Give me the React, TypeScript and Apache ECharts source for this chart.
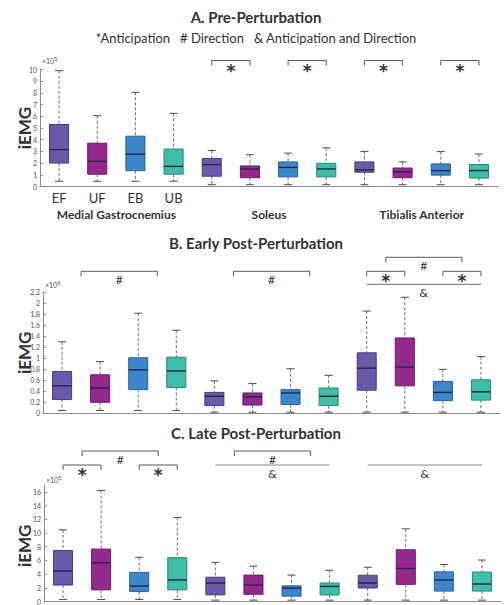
import React, { useEffect, useRef } from "react";
import * as echarts from "echarts";

// ---------- data ----------
const conditions = ["EF", "UF", "EB", "UB"];
const muscles = ["Medial Gastrocnemius", "Soleus", "Tibialis Anterior"];
const categories = muscles.flatMap((m) => conditions.map((c) => `${m}|${c}`));

// [min, q1, median, q3, max]  (x10^5)
const preStats = [
  [0.45, 2.0, 3.15, 5.3, 9.9],
  [0.45, 1.05, 2.15, 3.7, 6.05],
  [0.45, 1.35, 2.75, 4.3, 8.05],
  [0.45, 1.05, 1.72, 3.2, 6.25],
  [0.15, 0.88, 1.88, 2.4, 3.08],
  [0.15, 0.75, 1.5, 1.76, 2.72],
  [0.15, 0.82, 1.63, 2.1, 2.85],
  [0.15, 0.82, 1.5, 1.98, 3.3],
  [0.15, 1.22, 1.43, 2.1, 3.0],
  [0.15, 0.75, 1.25, 1.58, 2.1],
  [0.15, 0.97, 1.36, 1.93, 2.98],
  [0.15, 0.72, 1.36, 1.88, 2.77],
];
// x10^6
const earlyStats = [
  [0.05, 0.25, 0.5, 0.76, 1.3],
  [0.05, 0.2, 0.46, 0.7, 0.94],
  [0.05, 0.43, 0.79, 1.01, 1.82],
  [0.05, 0.47, 0.77, 1.02, 1.51],
  [0.02, 0.14, 0.31, 0.38, 0.59],
  [0.02, 0.15, 0.3, 0.37, 0.54],
  [0.02, 0.16, 0.37, 0.43, 0.81],
  [0.02, 0.14, 0.31, 0.46, 0.69],
  [0.02, 0.42, 0.82, 1.1, 1.86],
  [0.02, 0.5, 0.84, 1.37, 2.11],
  [0.02, 0.23, 0.38, 0.58, 0.8],
  [0.02, 0.24, 0.39, 0.61, 1.03],
];
// x10^5
const lateStats = [
  [0.3, 2.4, 4.45, 7.45, 10.45],
  [0.3, 1.7, 5.65, 7.65, 16.2],
  [0.3, 1.45, 2.25, 4.25, 6.45],
  [0.3, 1.7, 3.15, 6.4, 12.25],
  [0.2, 0.97, 2.7, 3.55, 5.7],
  [0.2, 1.05, 2.4, 3.85, 5.15],
  [0.2, 0.78, 1.95, 2.28, 3.85],
  [0.2, 0.95, 2.2, 2.7, 4.55],
  [0.2, 1.97, 2.7, 3.83, 5.0],
  [0.2, 2.5, 4.82, 7.55, 10.6],
  [0.2, 1.52, 3.15, 4.33, 5.4],
  [0.2, 1.52, 2.55, 4.3, 6.05],
];

const legendText = "*Anticipation   # Direction   & Anticipation and Direction";
const panelTitles = ["A. Pre-Perturbation", "B. Early Post-Perturbation", "C. Late Post-Perturbation"];
const yAxisTitle = "iEMG";
const exponents = [5, 6, 5];
const axisMax = [10, 2.2, 17];
const axisInterval = [1, 0.2, 2];

type Sig = { from: number; to: number; label: string; kind: "bracket" | "line"; row: number };
const preSig: Sig[] = [
  { from: 4, to: 5, label: "*", kind: "bracket", row: 0 },
  { from: 6, to: 7, label: "*", kind: "bracket", row: 0 },
  { from: 8, to: 9, label: "*", kind: "bracket", row: 0 },
  { from: 10, to: 11, label: "*", kind: "bracket", row: 0 },
];
const earlySig: Sig[] = [
  { from: 0.5, to: 2.5, label: "#", kind: "bracket", row: 1 },
  { from: 4.5, to: 6.5, label: "#", kind: "bracket", row: 1 },
  { from: 8.5, to: 10.5, label: "#", kind: "bracket", row: 2 },
  { from: 8, to: 9, label: "*", kind: "bracket", row: 1 },
  { from: 10, to: 11, label: "*", kind: "bracket", row: 1 },
  { from: 8, to: 11, label: "&", kind: "line", row: 0 },
];
const lateSig: Sig[] = [
  { from: 0, to: 1, label: "*", kind: "bracket", row: 0 },
  { from: 2, to: 3, label: "*", kind: "bracket", row: 0 },
  { from: 0.5, to: 2.5, label: "#", kind: "bracket", row: 1 },
  { from: 4.5, to: 6.5, label: "#", kind: "bracket", row: 1 },
  { from: 4, to: 7, label: "&", kind: "line", row: 0 },
  { from: 8, to: 11, label: "&", kind: "line", row: 0 },
];

// ---------- styles / layout ----------
const FONT = "Lato, 'Open Sans', sans-serif";
const STAR_FONT = "'DejaVu Sans', sans-serif";
const boxColors = ["#6a58aa", "#95288f", "#3a87cb", "#3dbea7"];
const boxStrokes = ["#4a3c82", "#6e1c6a", "#2a6399", "#2b8a78"];
const grids = [
  { left: 40, top: 69.5, width: 458, height: 117 },
  { left: 43, top: 292.3, width: 457, height: 121 },
  { left: 44, top: 485, width: 457, height: 121.5 },
];
const rowOffsets = [[9], [8, 21, 35], [20, 34]];
const titleY = [17, 243, 433];
const expY = [61, 285, 480];

function xAt(api: any, pos: number) {
  const a = Math.floor(pos);
  const b = Math.ceil(pos);
  const xa = api.coord([a, 0])[0];
  if (a === b) return xa;
  const xb = api.coord([b, 0])[0];
  return xa + (xb - xa) * (pos - a);
}

export default function App() {
  const ref = useRef<HTMLDivElement>(null);
  useEffect(() => {
    document.body.style.margin = "0";
    const chart = echarts.init(ref.current!, null, { renderer: "svg" });
    const statsList = [preStats, earlyStats, lateStats];
    const sigList = [preSig, earlySig, lateSig];

    const series: any[] = [];
    statsList.forEach((stats, k) => {
      series.push({
        type: "custom",
        xAxisIndex: k,
        yAxisIndex: k,
        clip: false,
        silent: true,
        data: stats.map((s, i) => [i, ...s]),
        encode: { x: 0, y: [1, 2, 3, 4, 5] },
        renderItem: (params: any, api: any) => {
          const i = api.value(0);
          const v = [1, 2, 3, 4, 5].map((d) => api.value(d));
          const p = v.map((val) => api.coord([i, val]));
          const band = api.size([1, 0])[0];
          const bw = band * 0.5;
          const cw = band * 0.21;
          const cx = p[0][0];
          const dash = { stroke: "#707070", lineWidth: 1, lineDash: [3, 2] };
          const cap = { stroke: "#4a4a4a", lineWidth: 1 };
          return {
            type: "group",
            children: [
              { type: "line", shape: { x1: cx, y1: p[4][1], x2: cx, y2: p[3][1] }, style: dash },
              { type: "line", shape: { x1: cx, y1: p[1][1], x2: cx, y2: p[0][1] }, style: dash },
              { type: "line", shape: { x1: cx - cw / 2, y1: p[4][1], x2: cx + cw / 2, y2: p[4][1] }, style: cap },
              { type: "line", shape: { x1: cx - cw / 2, y1: p[0][1], x2: cx + cw / 2, y2: p[0][1] }, style: cap },
              {
                type: "rect",
                shape: { x: cx - bw / 2, y: p[3][1], width: bw, height: p[1][1] - p[3][1] },
                style: { fill: boxColors[i % 4], stroke: boxStrokes[i % 4], lineWidth: 1 },
              },
              {
                type: "line",
                shape: { x1: cx - bw / 2, y1: p[2][1], x2: cx + bw / 2, y2: p[2][1] },
                style: { stroke: "#2a2448", lineWidth: 1.4 },
              },
            ],
          };
        },
      });
      const sig = sigList[k];
      series.push({
        type: "custom",
        xAxisIndex: k,
        yAxisIndex: k,
        clip: false,
        silent: true,
        data: sig.map((a) => [Math.round(a.from), 0]),
        encode: { x: 0, y: 1 },
        renderItem: (params: any, api: any) => {
          const a = sig[params.dataIndex];
          const x1 = xAt(api, a.from);
          const x2 = xAt(api, a.to);
          const top = api.coord([0, axisMax[k]])[1];
          const y = top - rowOffsets[k][a.row];
          const children: any[] = [];
          const isLine = a.kind === "line";
          const ls = { stroke: isLine ? "#8a8a8a" : "#5a5a5a", lineWidth: isLine ? 1.2 : 1 };
          children.push({ type: "line", shape: { x1, y1: y, x2, y2: y }, style: ls });
          if (!isLine) {
            children.push({ type: "line", shape: { x1, y1: y, x2: x1, y2: y + 5 }, style: ls });
            children.push({ type: "line", shape: { x1: x2, y1: y, x2, y2: y + 5 }, style: ls });
          }
          const star = a.label === "*";
          children.push({
            type: "text",
            x: (x1 + x2) / 2,
            y: y + (star ? 10 : 8.5),
            style: {
              text: a.label,
              fontSize: star ? 17 : 12,
              fontWeight: star ? "bold" : "normal",
              fontFamily: star ? STAR_FONT : FONT,
              fill: "#333",
              align: "center",
              verticalAlign: "middle",
            },
          });
          return { type: "group", children };
        },
      });
    });

    // muscle group labels under panel A
    series.push({
      type: "custom",
      xAxisIndex: 0,
      yAxisIndex: 0,
      clip: false,
      silent: true,
      data: muscles.map((m, g) => [g * 4, 0]),
      encode: { x: 0, y: 1 },
      renderItem: (params: any, api: any) => {
        const g = params.dataIndex;
        const xa = api.coord([g * 4, 0])[0];
        const xb = api.coord([g * 4 + 3, 0])[0];
        const y0 = api.coord([0, 0])[1];
        return {
          type: "text",
          x: (xa + xb) / 2,
          y: y0 + 28,
          style: {
            text: muscles[g],
            fontSize: 12,
            fontWeight: "bold",
            fontFamily: FONT,
            fill: "#333",
            align: "center",
            verticalAlign: "middle",
          },
        };
      },
    });

    const graphic: any[] = [];
    panelTitles.forEach((t, k) => {
      graphic.push({
        type: "text",
        x: 256,
        y: titleY[k],
        style: {
          text: t,
          font: `bold 15px ${FONT}`,
          fill: "#333",
          align: "center",
          verticalAlign: "middle",
        },
      });
      graphic.push({
        type: "text",
        x: grids[k].left + 2,
        y: expY[k],
        style: {
          text: `×10{s|${exponents[k]}}`,
          fontSize: 7,
          fontFamily: FONT,
          fill: "#555",
          verticalAlign: "middle",
          rich: { s: { fontSize: 6, fill: "#555", verticalAlign: "top", padding: [0, 0, 5, 0] } },
        },
      });
      graphic.push({
        type: "text",
        x: 24,
        y: grids[k].top + grids[k].height / 2,
        rotation: Math.PI / 2,
        style: {
          text: yAxisTitle,
          font: `bold 17px ${FONT}`,
          fill: "#333",
          align: "center",
          verticalAlign: "middle",
        },
      });
    });
    graphic.push({
      type: "text",
      x: 256,
      y: 38,
      style: {
        text: legendText,
        font: `13px ${FONT}`,
        fill: "#333",
        align: "center",
        verticalAlign: "middle",
      },
    });

    chart.setOption({
      animation: false,
      backgroundColor: "#ffffff",
      grid: grids.map((g) => ({ ...g, containLabel: false })),
      xAxis: grids.map((g, k) => ({
        gridIndex: k,
        type: "category",
        data: categories,
        axisLine: { lineStyle: { color: "#8c8c8c", width: 1 } },
        axisTick: { show: false },
        splitLine: { show: false },
        axisLabel: {
          show: k === 0,
          interval: 0,
          fontSize: 13,
          fontFamily: FONT,
          color: "#333",
          margin: 5,
          formatter: (v: string) => {
            const [m, c] = v.split("|");
            return m === muscles[0] ? c : "";
          },
        },
      })),
      yAxis: grids.map((g, k) => ({
        gridIndex: k,
        type: "value",
        min: 0,
        max: axisMax[k],
        interval: axisInterval[k],
        splitLine: { show: false },
        axisLine: { show: true, lineStyle: { color: "#8c8c8c", width: 1 } },
        axisTick: { show: true, inside: true, length: 3, lineStyle: { color: "#8c8c8c" } },
        axisLabel: {
          fontSize: 7,
          fontFamily: FONT,
          color: "#555",
          margin: 3,
          showMaxLabel: k !== 2,
          formatter: (v: number) => (v > axisMax[k] - 0.5 && k === 2 ? "" : String(+v.toFixed(2))),
        },
      })),
      series,
      graphic,
    });
    return () => chart.dispose();
  }, []);
  return <div ref={ref} style={{ width: 504, height: 605 }} />;
}
